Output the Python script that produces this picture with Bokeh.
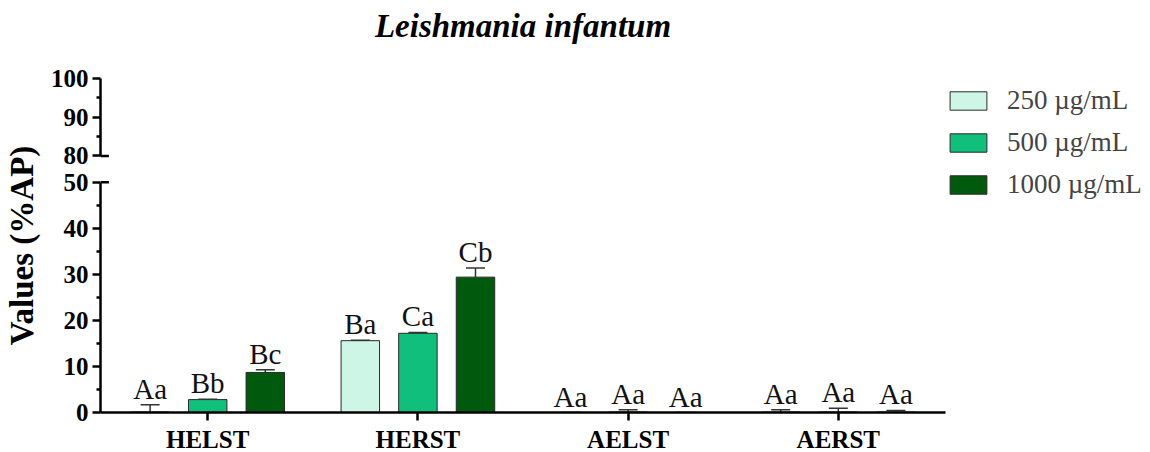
import numpy as np
import pandas as pd
from bokeh.plotting import figure
from bokeh.models import (ColumnDataSource, Range1d, FixedTicker, Whisker, TeeHead,
                          Legend, LegendItem, Title)
from bokeh.transform import dodge
from bokeh.core.properties import value
from bokeh.embed import file_html
from bokeh.resources import INLINE

# ---------------- data ----------------
groups = ["HELST", "HERST", "AELST", "AERST"]
concentrations = ["250 µg/mL", "500 µg/mL", "1000 µg/mL"]
means_250 = [0.1, 15.6, 0.0, 0.1]
means_500 = [2.8, 17.2, 0.1, 0.1]
means_1000 = [8.7, 29.4, 0.0, 0.1]
err_250 = [1.6, 0.1, 0.0, 0.5]
err_500 = [0.1, 0.2, 0.5, 0.8]
err_1000 = [0.6, 2.0, 0.0, 0.35]
letters_250 = ["Aa", "Ba", "Aa", "Aa"]
letters_500 = ["Bb", "Ca", "Aa", "Aa"]
letters_1000 = ["Bc", "Cb", "Aa", "Aa"]
y_ticks_low = [0, 10, 20, 30, 40, 50]
y_minor_low = [5, 15, 25, 35, 45]
y_ticks_high = [80, 90, 100]
y_minor_high = [85, 95]

colors = ["#cdf6e7", "#10bf7b", "#005a0d"]
offsets = [-0.274, 0.0, 0.274]
BAR_W = 0.183

# ---------------- broken axis mapping ----------------
BREAK_LOW, BREAK_HIGH, TOP_MAX = 50, 80, 100
GAP = 5.72          # axis units left empty between 50 and 80
TOP_RATIO = 0.841   # compression of the upper segment


def to_axis(v):
    if v <= BREAK_LOW:
        return v
    return round(BREAK_LOW + GAP + (v - BREAK_HIGH) * TOP_RATIO, 3)


Y_TOP = to_axis(TOP_MAX)
FRAME_H = 334
FRAME_W = 845
PX = FRAME_H / Y_TOP
low_px = round(BREAK_LOW * PX)
gap_px = round(GAP * PX)
top_px = FRAME_H - low_px - gap_px

SERIF = "Liberation Serif"

p = figure(frame_width=FRAME_W, frame_height=FRAME_H,
           x_range=Range1d(-0.51, 3.51), y_range=Range1d(0, Y_TOP),
           output_backend="svg", toolbar_location=None,
           min_border_left=100, min_border_right=198, min_border_top=78,
           min_border_bottom=38)
p.xgrid.visible = False
p.ygrid.visible = False
p.outline_line_color = None

p.title.text = "Leishmania infantum"
p.title.align = "center"
p.title.text_font = SERIF
p.title.text_font_style = "bold italic"
p.title.text_font_size = "33px"
p.title.text_color = "black"
p.title.standoff = 0
# empty spacer between the title and the plot area
p.add_layout(Title(text=" ", text_font_size="20px", standoff=11), "above")

series = [
    (means_250, err_250, letters_250),
    (means_500, err_500, letters_500),
    (means_1000, err_1000, letters_1000),
]

items = []
for (means, errs, letters), color, off, conc in zip(series, colors, offsets, concentrations):
    src = ColumnDataSource(dict(
        x=list(range(len(groups))),
        top=means,
        upper=[m + e for m, e in zip(means, errs)],
        label=letters,
    ))
    xs = dodge("x", off, range=p.x_range)
    r = p.vbar(x=xs, top="top", width=BAR_W, source=src,
               fill_color=color, line_color="#2a2a2a", line_width=1)
    w = Whisker(source=src, base=xs, lower="top", upper="upper",
                line_color="#333333", line_width=1.5, level="glyph",
                upper_head=TeeHead(size=19, line_color="#333333", line_width=1.5),
                lower_head=None)
    p.add_layout(w)
    p.text(x=xs, y="upper", text="label", source=src,
           text_align="center", text_baseline="middle", y_offset=-16,
           text_font=value(SERIF), text_font_size="29px", text_color="#111111")
    items.append(LegendItem(label=conc, renderers=[r]))

# break marks pointing into the plot at 50 and 80
p.segment(x0=[-0.51, -0.51], x1=[-0.51 + 0.04, -0.51 + 0.04],
          y0=[BREAK_LOW, to_axis(BREAK_HIGH)], y1=[BREAK_LOW, to_axis(BREAK_HIGH)],
          line_color="black", line_width=2.5)

# y axis
ya = p.yaxis[0]
ya.ticker = FixedTicker(ticks=y_ticks_low + [to_axis(v) for v in y_ticks_high],
                        minor_ticks=y_minor_low + [to_axis(v) for v in y_minor_high])
ya.major_label_overrides = {to_axis(v): str(v) for v in y_ticks_high}
ya.axis_line_width = 2.5
ya.axis_line_color = "black"
ya.axis_line_dash = f"{low_px} {gap_px} {top_px}"
ya.major_tick_line_width = 2.5
ya.minor_tick_line_width = 2.5
ya.major_tick_out = 8
ya.major_tick_in = 0
ya.minor_tick_out = 4
ya.minor_tick_in = 0
ya.major_label_standoff = 4
ya.major_label_text_font = SERIF
ya.major_label_text_font_style = "bold"
ya.major_label_text_font_size = "25px"
ya.major_label_text_color = "black"
ya.axis_label = "Values (%AP)"
ya.axis_label_text_font = SERIF
ya.axis_label_text_font_style = "bold"
ya.axis_label_text_font_size = "33px"
ya.axis_label_text_color = "black"
ya.axis_label_standoff = 8

# x axis
xa = p.xaxis[0]
xa.ticker = FixedTicker(ticks=list(range(len(groups))))
xa.major_label_overrides = {i: g for i, g in enumerate(groups)}
xa.axis_line_width = 2.5
xa.axis_line_color = "black"
xa.major_tick_line_width = 2.5
xa.major_tick_out = 8
xa.major_tick_in = 0
xa.minor_tick_line_color = None
xa.major_label_standoff = 5
xa.major_label_text_font = SERIF
xa.major_label_text_font_style = "bold"
xa.major_label_text_font_size = "25px"
xa.major_label_text_color = "black"

legend = Legend(items=items, location=(0, 212), orientation="vertical",
                glyph_width=46, glyph_height=23, label_standoff=16, spacing=11,
                padding=0, margin=0, border_line_color=None,
                background_fill_alpha=0,
                label_text_font=SERIF, label_text_font_size="27px")
p.add_layout(legend, "right")

open("out.html", "w").write(file_html(p, INLINE))
